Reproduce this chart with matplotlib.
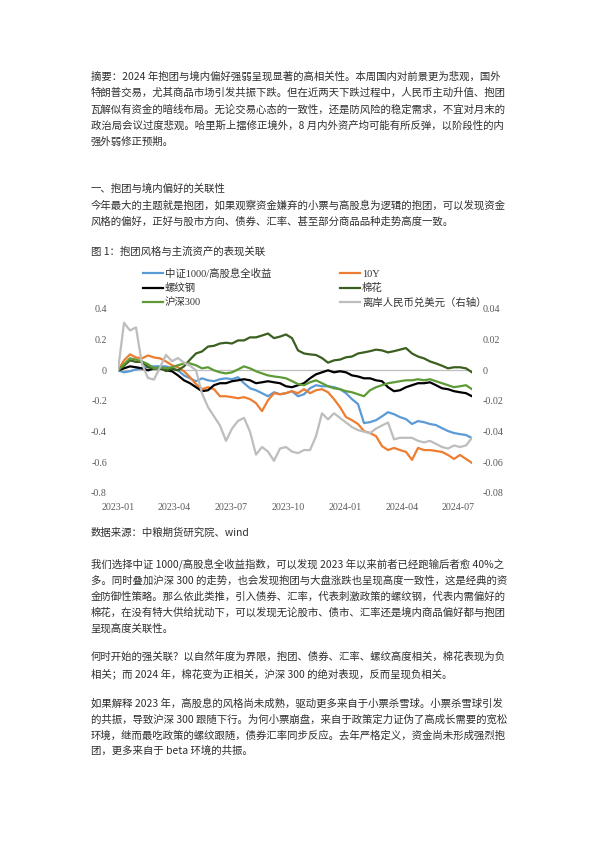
import matplotlib
matplotlib.use('Agg')
import matplotlib.pyplot as plt
import pandas as pd

# ---------------- data ----------------
dates = pd.date_range('2023-01-01', '2024-07-23', periods=60)

csi1000_div = [0, -0.013, -0.006, 0.006, 0.013, 0.026, 0.026, 0.026, 0.026, 0.013,
               0, -0.033, -0.052, -0.071, -0.052, -0.065, -0.071, -0.058, -0.052, -0.058,
               -0.045, -0.084, -0.117, -0.13, -0.149, -0.169, -0.143, -0.156, -0.149, -0.136,
               -0.169, -0.156, -0.117, -0.097, -0.104, -0.104, -0.11, -0.123, -0.149, -0.188,
               -0.22, -0.344, -0.338, -0.325, -0.3, -0.273, -0.286, -0.305, -0.318, -0.35,
               -0.331, -0.338, -0.35, -0.357, -0.377, -0.396, -0.409, -0.416, -0.422, -0.442]
bond10y = [0, 0.065, 0.104, 0.084, 0.078, 0.097, 0.084, 0.078, 0.058, 0.033,
           0.02, -0.006, -0.045, -0.09, -0.123, -0.11, -0.123, -0.169, -0.169, -0.175,
           -0.182, -0.175, -0.188, -0.214, -0.266, -0.195, -0.149, -0.156, -0.149, -0.136,
           -0.149, -0.123, -0.149, -0.13, -0.123, -0.143, -0.188, -0.24, -0.305, -0.325,
           -0.35, -0.396, -0.409, -0.429, -0.494, -0.52, -0.506, -0.52, -0.532, -0.584,
           -0.506, -0.52, -0.52, -0.526, -0.532, -0.552, -0.578, -0.552, -0.578, -0.604]
rebar = [0, 0.013, 0.026, 0.02, 0.013, 0, 0.013, 0.013, 0, -0.006,
         -0.033, -0.065, -0.084, -0.11, -0.136, -0.13, -0.097, -0.084, -0.084, -0.071,
         -0.065, -0.058, -0.065, -0.084, -0.078, -0.071, -0.078, -0.084, -0.104, -0.11,
         -0.097, -0.084, -0.052, -0.026, -0.013, 0, -0.013, -0.006, -0.013, -0.033,
         -0.04, -0.052, -0.052, -0.065, -0.071, -0.11, -0.136, -0.13, -0.11, -0.097,
         -0.084, -0.084, -0.078, -0.097, -0.117, -0.123, -0.136, -0.143, -0.149, -0.169]
cotton = [0, 0.03, 0.065, 0.055, 0.055, 0.02, 0.01, 0.02, -0.005, 0.01,
          0, 0.026, 0.07, 0.11, 0.123, 0.155, 0.16, 0.175, 0.18, 0.175,
          0.195, 0.195, 0.215, 0.215, 0.227, 0.24, 0.21, 0.22, 0.234, 0.21,
          0.13, 0.11, 0.104, 0.1, 0.08, 0.05, 0.065, 0.07, 0.085, 0.09,
          0.11, 0.117, 0.125, 0.135, 0.13, 0.117, 0.125, 0.135, 0.145, 0.11,
          0.09, 0.078, 0.058, 0.045, 0.03, 0.013, 0.02, 0.02, 0.013, -0.013]
hs300 = [0, 0.04, 0.078, 0.07, 0.058, 0.04, 0.013, 0.02, 0.013, 0.02,
         0.033, 0.045, 0.045, 0.033, 0.013, 0.02, 0, -0.013, -0.02, -0.013,
         0.006, 0.026, 0.013, -0.006, -0.02, -0.033, -0.04, -0.045, -0.052, -0.07,
         -0.09, -0.097, -0.078, -0.065, -0.084, -0.104, -0.117, -0.123, -0.136, -0.143,
         -0.156, -0.169, -0.13, -0.11, -0.097, -0.084, -0.078, -0.071, -0.065, -0.065,
         -0.058, -0.065, -0.058, -0.071, -0.084, -0.097, -0.11, -0.104, -0.097, -0.123]
cnh_usd = [0, 0.031, 0.026, 0.028, 0.004, -0.005, -0.006, 0.002, 0.010, 0.006,
           0.008, 0.005, 0.003, 0.0, -0.015, -0.024, -0.030, -0.036, -0.046, -0.038,
           -0.033, -0.031, -0.040, -0.055, -0.050, -0.053, -0.059, -0.051, -0.050, -0.053,
           -0.054, -0.052, -0.052, -0.043, -0.028, -0.032, -0.028, -0.031, -0.034, -0.037,
           -0.039, -0.040, -0.041, -0.038, -0.036, -0.034, -0.045, -0.044, -0.044, -0.044,
           -0.046, -0.047, -0.046, -0.048, -0.050, -0.051, -0.049, -0.050, -0.049, -0.044]

series_names = ['中证1000/高股息全收益', '10Y', '螺纹钢', '棉花', '沪深300', '离岸人民币兑美元（右轴）']
left_ticks = [0.4, 0.2, 0, -0.2, -0.4, -0.6, -0.8]
left_labels = ['0.4', '0.2', '0', '-0.2', '-0.4', '-0.6', '-0.8']
right_ticks = [0.04, 0.02, 0, -0.02, -0.04, -0.06, -0.08]
right_labels = ['0.04', '0.02', '0', '-0.02', '-0.04', '-0.06', '-0.08']
x_tick_dates = ['2023-01-01', '2023-04-01', '2023-07-01', '2023-10-01',
                '2024-01-01', '2024-04-01', '2024-07-01']
x_tick_labels = ['2023-01', '2023-04', '2023-07', '2023-10', '2024-01', '2024-04', '2024-07']

summary_lines = [
    '摘要：2024 年抱团与境内偏好强弱呈现显著的高相关性。本周国内对前景更为悲观，国外',
    '特朗普交易，尤其商品市场引发共振下跌。但在近两天下跌过程中，人民币主动升值、抱团',
    '瓦解似有资金的暗线布局。无论交易心态的一致性，还是防风险的稳定需求，不宜对月末的',
    '政治局会议过度悲观。哈里斯上擂修正境外，8 月内外资产均可能有所反弹，以阶段性的内',
    '强外弱修正预期。',
]
section_lines = [
    '一、抱团与境内偏好的关联性',
    '今年最大的主题就是抱团，如果观察资金嫌弃的小票与高股息为逻辑的抱团，可以发现资金',
    '风格的偏好，正好与股市方向、债券、汇率、甚至部分商品品种走势高度一致。',
]
fig_title = '图 1：抱团风格与主流资产的表现关联'
source_text = '数据来源：中粮期货研究院、wind'
para1_lines = [
    '我们选择中证 1000/高股息全收益指数，可以发现 2023 年以来前者已经跑输后者愈 40%之',
    '多。同时叠加沪深 300 的走势，也会发现抱团与大盘涨跌也呈现高度一致性，这是经典的资',
    '金防御性策略。那么依此类推，引入债券、汇率，代表刺激政策的螺纹钢，代表内需偏好的',
    '棉花，在没有特大供给扰动下，可以发现无论股市、债市、汇率还是境内商品偏好都与抱团',
    '呈现高度关联性。',
]
para2_lines = [
    '何时开始的强关联？以自然年度为界限，抱团、债券、汇率、螺纹高度相关，棉花表现为负',
    '相关；而 2024 年，棉花变为正相关，沪深 300 的绝对表现，反而呈现负相关。',
]
para3_lines = [
    '如果解释 2023 年，高股息的风格尚未成熟，驱动更多来自于小票杀雪球。小票杀雪球引发',
    '的共振，导致沪深 300 跟随下行。为何小票崩盘，来自于政策定力证伪了高成长需要的宽松',
    '环境，继而最吃政策的螺纹跟随，债券汇率同步反应。去年严格定义，资金尚未形成强烈抱',
    '团，更多来自于 beta 环境的共振。',
]

# ---------------- layout ----------------
W, H = 595, 842
fig = plt.figure(figsize=(W / 100, H / 100), dpi=100)
fig.patch.set_facecolor('white')

def fx(px):
    return px / W

def fy(py):
    return 1 - py / H

body_font = ['Noto Sans CJK SC', 'DejaVu Sans']
body_size = 7.5
body_color = '#2e2e2e'
text_x = fx(90.7)

def put_lines(lines, ys):
    for line, y in zip(lines, ys):
        fig.text(text_x, fy(y), line, ha='left', va='center', fontsize=body_size,
                 family=body_font, color=body_color)

put_lines(summary_lines, [76.7, 93.0, 109.3, 125.7, 141.7])
put_lines(section_lines, [189.0, 205.7, 221.7])
put_lines([fig_title], [251.0])
put_lines([source_text], [532.3])
put_lines(para1_lines, [564.3, 580.7, 597.0, 612.7, 628.3])
put_lines(para2_lines, [656.7, 673.3])
put_lines(para3_lines, [703.3, 719.3, 736.0, 751.0])

# ---------------- chart ----------------
ax = fig.add_axes([fx(118), fy(493), fx(472) - fx(118), fy(309) - fy(493)])
ax2 = ax.twinx()

tick_font = ['Liberation Serif', 'DejaVu Serif']
tick_color = '#595959'

ax.axhline(0, color='#BFBFBF', lw=0.9, zorder=1)
lw = 1.6
l1, = ax.plot(dates, csi1000_div, color='#5B9BD5', lw=lw, label=series_names[0], zorder=2)
l2, = ax.plot(dates, bond10y, color='#ED7D31', lw=lw, label=series_names[1], zorder=3)
l3, = ax.plot(dates, rebar, color='#000000', lw=lw, label=series_names[2], zorder=4)
l4, = ax.plot(dates, cotton, color='#3A5F1F', lw=lw, label=series_names[3], zorder=5)
l5, = ax.plot(dates, hs300, color='#5E9A35', lw=lw, label=series_names[4], zorder=6)
l6, = ax2.plot(dates, cnh_usd, color='#BDBDBD', lw=lw, label=series_names[5], zorder=2)

ax.set_xlim(dates[0], dates[-1])
ax.set_ylim(-0.8, 0.4)
ax2.set_ylim(-0.08, 0.04)
ax.set_yticks(left_ticks)
ax.set_yticklabels(left_labels)
ax2.set_yticks(right_ticks)
ax2.set_yticklabels(right_labels)
ax.set_xticks(pd.to_datetime(x_tick_dates))
ax.set_xticklabels(x_tick_labels)

for a in (ax, ax2):
    for s in a.spines.values():
        s.set_visible(False)
    a.tick_params(length=0, labelsize=7.2, colors=tick_color)
    for t in a.get_xticklabels() + a.get_yticklabels():
        t.set_family(tick_font)
ax.tick_params(axis='y', pad=8)
ax2.tick_params(axis='y', pad=7.5)
ax.tick_params(axis='x', pad=7)
ax.patch.set_alpha(0)
ax2.patch.set_alpha(0)

handles = [l1, l3, l5, l2, l4, l6]
leg = fig.legend(handles=handles, labels=[h.get_label() for h in handles],
                 loc='upper left', bbox_to_anchor=(fx(143), fy(268.5)),
                 bbox_transform=fig.transFigure, ncol=2, frameon=False,
                 borderpad=0, borderaxespad=0, handlelength=1.9, handletextpad=0.2,
                 columnspacing=6.6, labelspacing=0.42,
                 prop={'family': ['Liberation Serif', 'Noto Sans CJK SC'], 'size': 7.5})
for t in leg.get_texts():
    t.set_color('#333333')

fig.savefig('out.png', dpi=100, facecolor='white')
